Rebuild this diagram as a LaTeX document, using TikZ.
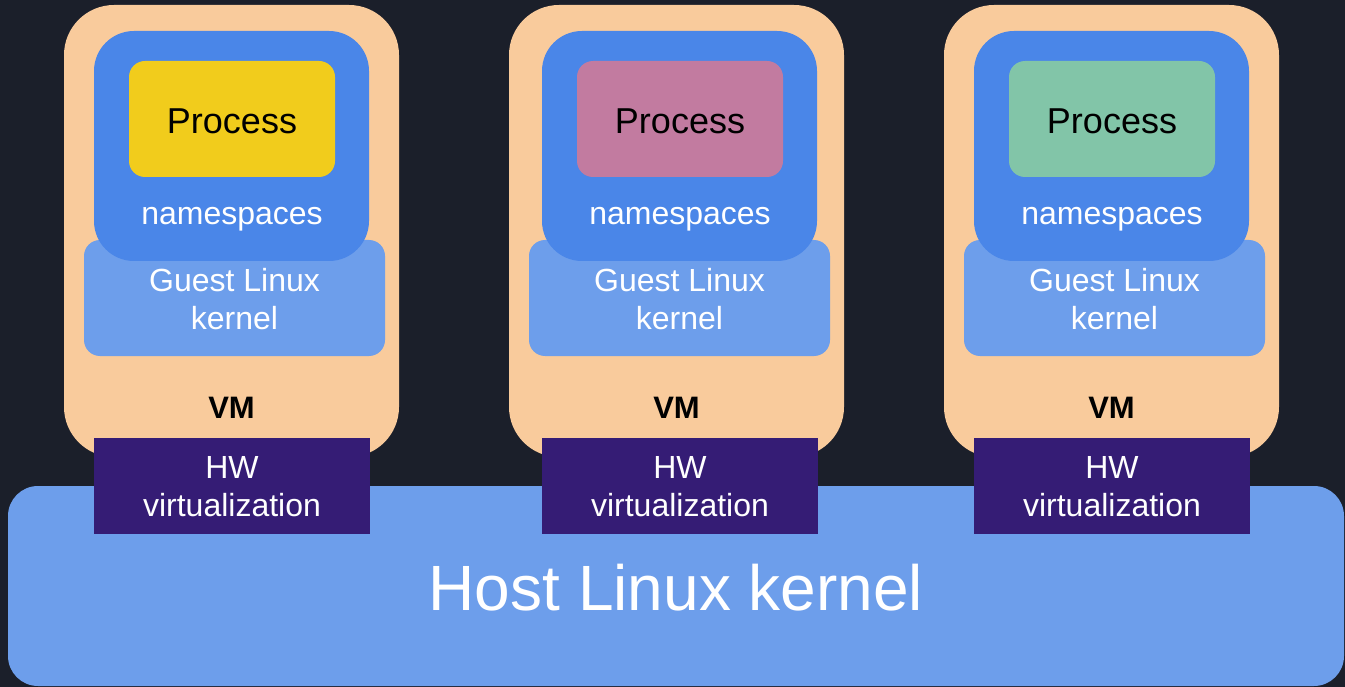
\documentclass[tikz,border=0pt]{standalone}
\usepackage{fontspec}
\setmainfont{Liberation Sans}
\definecolor{bg}{HTML}{1B1F2A}
\definecolor{peach}{HTML}{F9CB9C}
\definecolor{nsblue}{HTML}{4A86E8}
\definecolor{lblue}{HTML}{6D9EEB}
\definecolor{hwpurple}{HTML}{351C75}
\definecolor{procA}{HTML}{F1CC1C}
\definecolor{procB}{HTML}{C27BA0}
\definecolor{procC}{HTML}{82C5A8}
\begin{document}
\begin{tikzpicture}[x=1pt,y=-1pt,
  shape box/.style={rectangle, inner sep=0pt, outer sep=0pt, draw=none, anchor=north west},
  vmbox/.style={shape box, fill=peach, rounded corners=50pt, minimum width=335pt, minimum height=452pt},
  nsbox/.style={shape box, fill=nsblue, rounded corners=40pt, minimum width=275pt, minimum height=230pt},
  procbox/.style={shape box, rounded corners=16pt, minimum width=206pt, minimum height=116pt},
  guestbox/.style={shape box, fill=lblue, rounded corners=16pt, minimum width=301pt, minimum height=116pt},
  hwbox/.style={shape box, fill=hwpurple, minimum width=276pt, minimum height=96pt},
  hostbox/.style={shape box, fill=lblue, rounded corners=30pt, minimum width=1336pt, minimum height=200pt},
  wtext/.style={text=white, inner sep=0pt, align=center, font=\fontsize{32}{38}\selectfont},
  btext/.style={text=black, inner sep=0pt, align=center}
]
\fill[bg] (0,0) rectangle (1345,687);
\useasboundingbox (0,0) rectangle (1345,687);

\foreach \i/\vx/\nx/\px/\gx/\col in {1/64/94/129/84/procA, 2/509/542/577/529/procB, 3/944/974/1009/964/procC}{
  \node[vmbox] (vm\i) at (\vx,5) {};
  \node[guestbox] (guest\i) at (\gx,240) {};
  \node[nsbox] (ns\i) at (\nx,31) {};
  \node[procbox, fill=\col] (proc\i) at (\px,61) {};
  \node[btext, font=\fontsize{36}{43}\selectfont] (proct\i) at ([yshift=-2pt]proc\i.center) {Process};
  \node[wtext] (nst\i) at ([yshift=-100pt]proc\i.center) {namespaces};
  \node[wtext] (guestt\i) at ([yshift=-1pt]guest\i.center) {Guest Linux\\kernel};
  \node[btext, font=\fontsize{31}{37}\selectfont\bfseries] (vmt\i) at (vm\i.center |- 0,408) {VM};
}
\node[hostbox] (host) at (8,486) {};
\node[wtext, font=\fontsize{64}{76}\selectfont] (hostt) at ([yshift=-2pt]host.center) {Host Linux kernel};
\foreach \i/\nx in {1/94, 2/542, 3/974}{
  \node[hwbox] (hw\i) at (\nx,438) {};
  \node[wtext] (hwt\i) at ([yshift=-1pt]hw\i.center) {HW\\virtualization};
}
\end{tikzpicture}
\end{document}
